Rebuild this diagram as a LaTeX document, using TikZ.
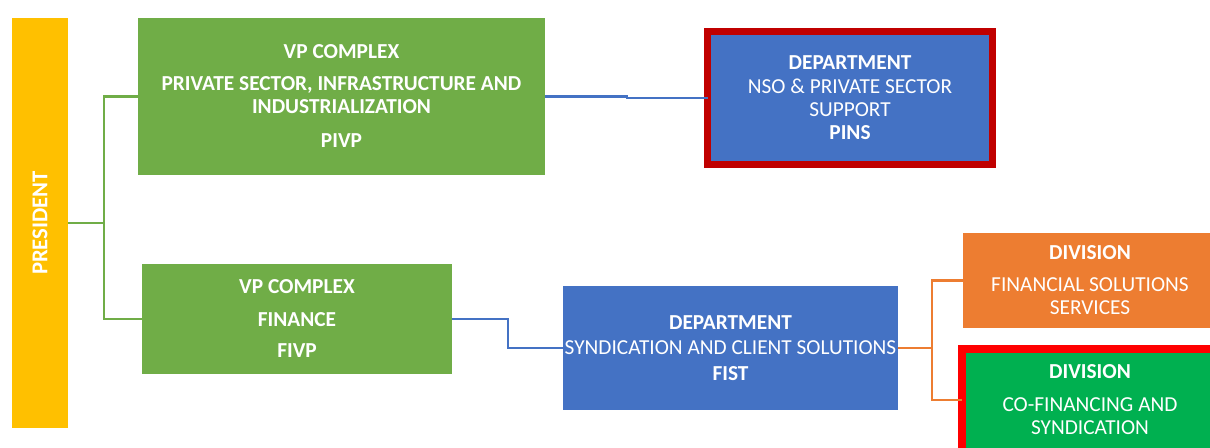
\documentclass[tikz,border=0pt]{standalone}
\usepackage{fontspec}
\setmainfont{Carlito}
\definecolor{cgreen}{HTML}{70AD47}
\definecolor{cblue}{HTML}{4472C4}
\definecolor{corange}{HTML}{ED7D31}
\definecolor{cyellow}{HTML}{FFC000}
\definecolor{cdred}{HTML}{C00000}
\definecolor{cred}{HTML}{FF0000}
\definecolor{cbgreen}{HTML}{00B050}
\tikzset{
  box/.style={inner sep=0pt, outer sep=0pt, text=white, align=center,
    font=\fontsize{16}{17.25}\selectfont},
  bbox/.style={box, font=\fontsize{16}{17.25}\selectfont\bfseries},
  gline/.style={draw=cgreen, line width=1.9pt},
  bline/.style={draw=cblue, line width=1.9pt},
  oline/.style={draw=corange, line width=1.9pt},
}
\begin{document}
\begin{tikzpicture}[x=0.75pt,y=-0.75pt]
\useasboundingbox (0,0) rectangle (1210,448);
% president
\node[box, fill=cyellow, minimum width=0.75pt*56, minimum height=0.75pt*410] (pres) at (40,223) {};
\node[box, rotate=90, font=\fontsize{17}{17}\selectfont\bfseries] (prestext) at (40,223) {PRESIDENT};
% PIVP
\node[bbox, fill=cgreen, minimum width=0.75pt*407, minimum height=0.75pt*157] (pivp) at (341.5,96.5)
  {VP COMPLEX\\[6.75pt]PRIVATE SECTOR, INFRASTRUCTURE AND\\INDUSTRIALIZATION\\[8.25pt]PIVP};
% FIVP
\node[bbox, fill=cgreen, minimum width=0.75pt*310, minimum height=0.75pt*110] (fivp) at (297,319)
  {VP COMPLEX\\[7.5pt]FINANCE\\[6pt]FIVP};
% PINS
\node[box, fill=cblue, draw=cdred, line width=0.75pt*7, minimum width=0.75pt*285, minimum height=0.75pt*133] (pins) at (850,98)
  {\textbf{DEPARTMENT}\\[0.75pt]NSO \& PRIVATE SECTOR\\SUPPORT\\\textbf{PINS}};
% FIST
\node[box, fill=cblue, minimum width=0.75pt*335, minimum height=0.75pt*124] (fist) at (730.5,348)
  {\textbf{DEPARTMENT}\\[1.5pt]SYNDICATION AND CLIENT SOLUTIONS\\[2pt]\textbf{FIST}};
% FSS
\node[box, fill=corange, minimum width=0.75pt*247, minimum height=0.75pt*95] (fss) at (1086.5,280.5) {};
\node[box] (fsstext) at (1090,280.5)
  {\textbf{DIVISION}\\[6.75pt]FINANCIAL SOLUTIONS\\SERVICES};
% CFS
\node[box, fill=cbgreen, draw=cred, line width=0.75pt*8, minimum width=0.75pt*263, minimum height=0.75pt*111] (cfs) at (1093.5,404.5) {};
\node[box] (cfstext) at (1090,400)
  {\textbf{DIVISION}\\[7.5pt]CO-FINANCING AND\\SYNDICATION};
% connectors
\coordinate (j1) at (104,223);
\draw[gline] (pres.east) -- (j1) |- (pivp.west);
\draw[gline] (j1) |- (fivp.west);
\coordinate (j2a) at (627,96.5);
\coordinate (j2b) at (627,98);
\draw[bline] (pivp.east) -- (j2a) -- (j2b) -- (pins.west);
\coordinate (j3) at (508,319);
\draw[bline] (fivp.east) -- (j3) |- (fist.west);
\coordinate (j4) at (932,348);
\coordinate (j5) at (932,400);
\draw[oline] (fist.east) -- (j4) |- (fss.west);
\draw[oline] (j4) -- (j5) -- (j5 -| cfs.west);
\end{tikzpicture}
\end{document}
